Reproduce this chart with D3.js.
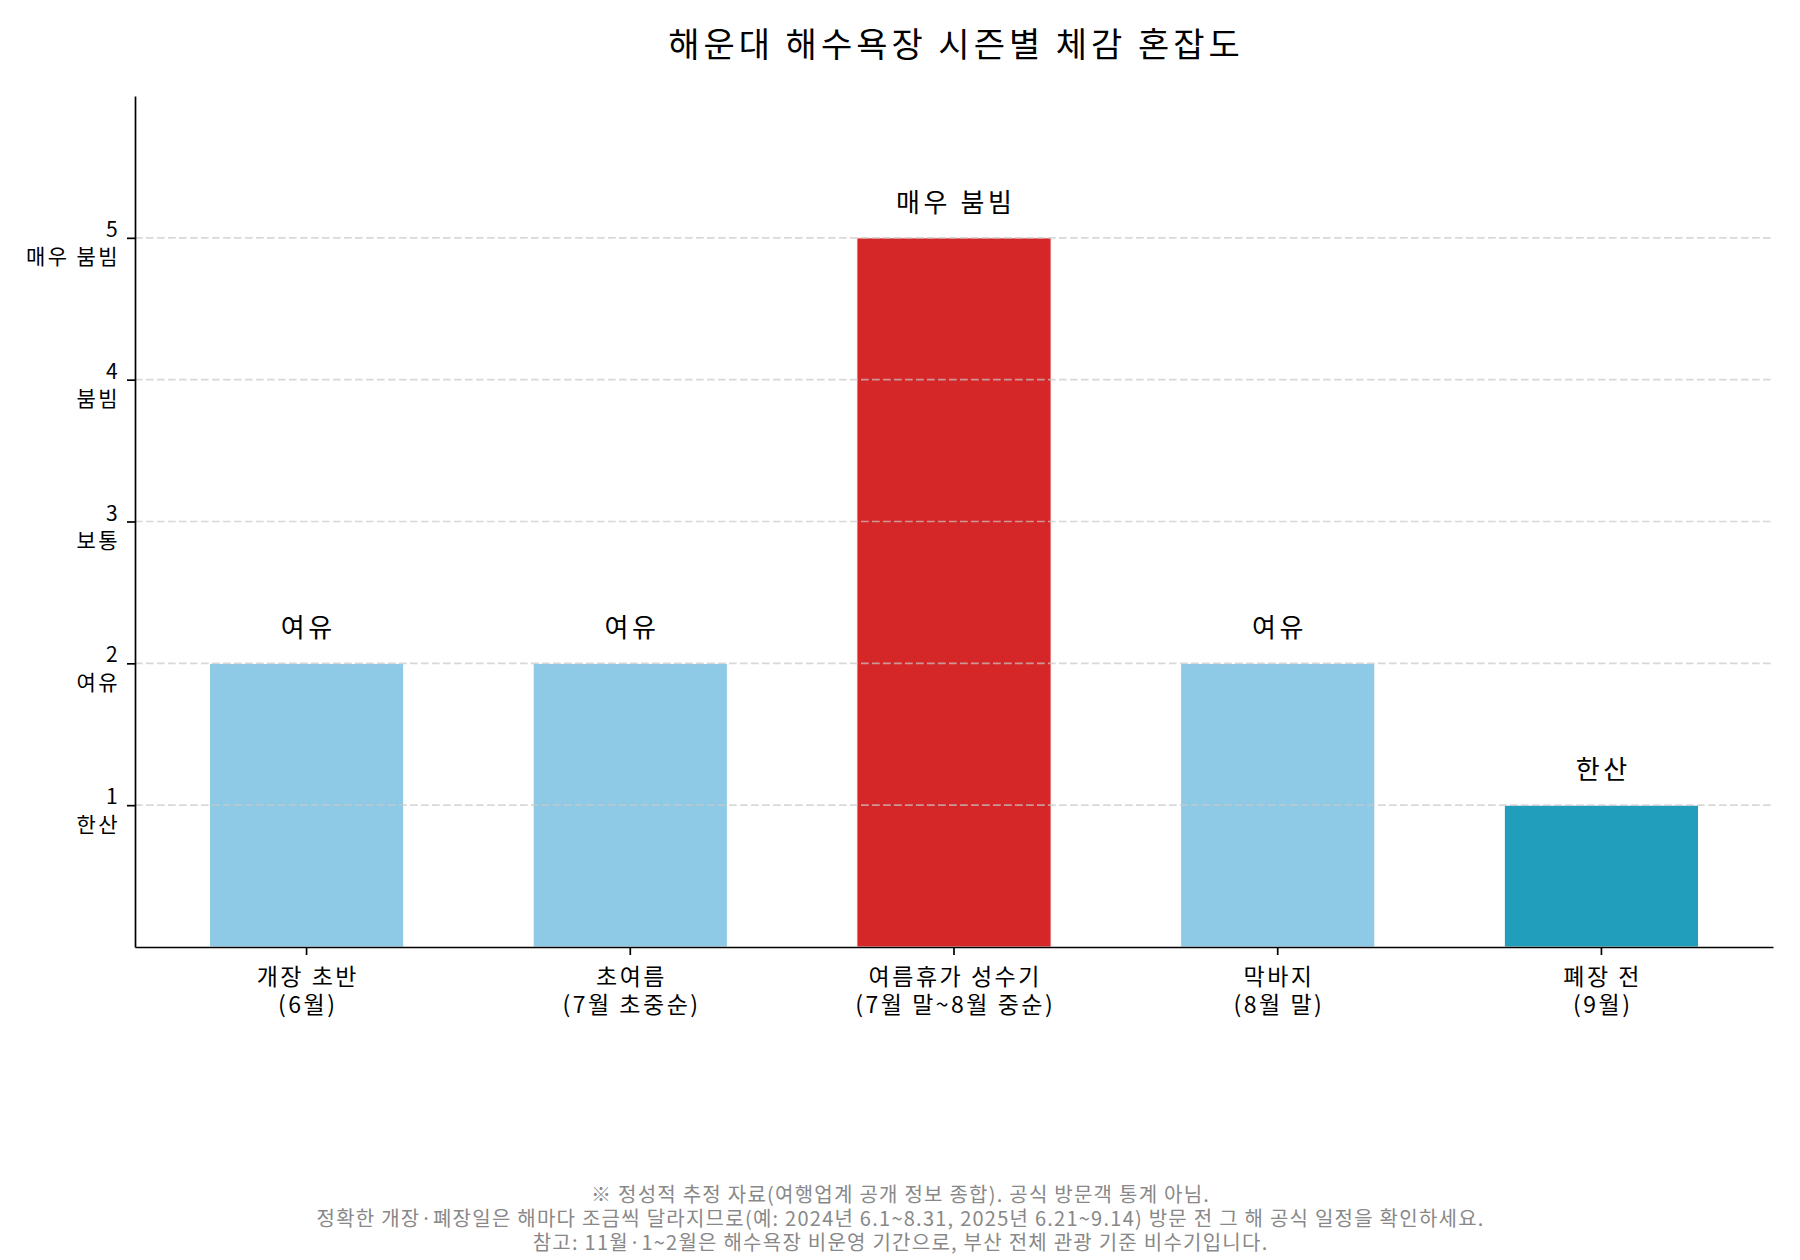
<!DOCTYPE html>
<html>
<head>
<meta charset="utf-8">
<script src="https://cdn.jsdelivr.net/npm/d3@7"></script>
<style>
  body { margin: 0; background: #fff; }
  text { font-family: "Noto Sans CJK KR", "Noto Sans", sans-serif; }
</style>
</head>
<body>
<div id="chart"></div>
<script>
// Data
const seasons = [
  ["개장 초반", "(6월)"],
  ["초여름", "(7월 초중순)"],
  ["여름휴가 성수기", "(7월 말~8월 중순)"],
  ["막바지", "(8월 말)"],
  ["폐장 전", "(9월)"]
];
const levels = [2, 2, 5, 2, 1];
const barColors = ["#8ecae6", "#8ecae6", "#d62728", "#8ecae6", "#219ebc"];
const levelTicks = [1, 2, 3, 4, 5];
const levelNames = ["한산", "여유", "보통", "붐빔", "매우 붐빔"];
const title = "해운대 해수욕장 시즌별 체감 혼잡도";
const notes = [
  "※ 정성적 추정 자료(여행업계 공개 정보 종합). 공식 방문객 통계 아님.",
  "정확한 개장·폐장일은 해마다 조금씩 달라지므로(예: 2024년 6.1~8.31, 2025년 6.21~9.14) 방문 전 그 해 공식 일정을 확인하세요.",
  "참고: 11월·1~2월은 해수욕장 비운영 기간으로, 부산 전체 관광 기준 비수기입니다."
];

const W = 1800, H = 1260;
const margin = {top: 96, right: 27, bottom: 313, left: 135};
const width = W - margin.left - margin.right,
      height = H - margin.top - margin.bottom;

const svg = d3.select("#chart")
  .append("svg")
    .attr("width", W)
    .attr("height", H);

const g = svg.append("g")
    .attr("transform", `translate(${margin.left},${margin.top})`);

const idx = d3.range(seasons.length);

// X scale: bars 0.6 wide, matplotlib-like margins
const x = d3.scaleBand()
  .domain(idx)
  .range([0, width])
  .paddingInner(0.4)
  .paddingOuter(0.23);

const y = d3.scaleLinear()
  .domain([0, 6])
  .range([height, 0]);

// Bars
g.selectAll(".bar")
  .data(idx)
  .join("rect")
    .attr("class", "bar")
    .attr("x", i => x(i))
    .attr("y", i => y(levels[i]))
    .attr("width", x.bandwidth())
    .attr("height", i => y(0) - y(levels[i]))
    .attr("fill", i => barColors[i])
    .attr("stroke", "#fff")
    .attr("stroke-width", 1);

// Grid lines (dashed, semi transparent, on top of bars)
g.append("g")
  .selectAll("line")
  .data(levelTicks)
  .join("line")
    .attr("x1", 0)
    .attr("x2", width)
    .attr("y1", d => y(d))
    .attr("y2", d => y(d))
    .attr("stroke", "#c8c8c8")
    .attr("stroke-opacity", 0.7)
    .attr("stroke-width", 1.6)
    .attr("stroke-dasharray", "7.7,3.3");

// Value labels above bars
g.selectAll(".val")
  .data(idx)
  .join("text")
    .attr("class", "val")
    .attr("x", i => x(i) + x.bandwidth() / 2 + 1.8)
    .attr("y", i => y(levels[i]) - 26)
    .attr("text-anchor", "middle")
    .attr("font-size", 26)
    .attr("letter-spacing", 3.6)
    .attr("fill", "#000")
    .text(i => levelNames[levels[i] - 1]);

// X axis
const xAxis = g.append("g")
  .attr("transform", `translate(0,${height})`)
  .call(d3.axisBottom(x).tickSize(8).tickSizeOuter(0).tickFormat(""));
xAxis.select(".domain").attr("stroke", "#000").attr("stroke-width", 1.7);
xAxis.selectAll(".tick line").attr("stroke", "#000").attr("stroke-width", 1.7);
xAxis.selectAll(".tick text").remove();
xAxis.selectAll(".tick").append("text")
    .attr("text-anchor", "middle")
    .attr("font-size", 23)
    .attr("letter-spacing", 2.5)
    .attr("fill", "#000")
  .selectAll("tspan")
  .data(i => seasons[i])
  .join("tspan")
    .attr("x", 1.25)
    .attr("y", (d, k) => 38 + k * 28)
    .text(d => d);

// Y axis
const yAxis = g.append("g")
  .call(d3.axisLeft(y).tickValues(levelTicks).tickSize(8).tickSizeOuter(0).tickFormat(""));
yAxis.select(".domain").attr("stroke", "#000").attr("stroke-width", 1.7);
yAxis.selectAll(".tick line").attr("stroke", "#000").attr("stroke-width", 1.7);
yAxis.selectAll(".tick text").remove();
yAxis.selectAll(".tick").append("text")
    .attr("text-anchor", "end")
    .attr("font-size", 21)
    .attr("letter-spacing", 2.4)
    .attr("fill", "#000")
  .selectAll("tspan")
  .data(d => [String(d), levelNames[d - 1]])
  .join("tspan")
    .attr("x", -15)
    .attr("y", (d, k) => -1.5 + k * 27.5)
    .text(d => d);

// Title
svg.append("text")
  .attr("x", margin.left + width / 2 + 2)
  .attr("y", 57)
  .attr("text-anchor", "middle")
  .attr("font-size", 34)
  .attr("letter-spacing", 4)
  .attr("fill", "#000")
  .text(title);

// Footnotes
svg.append("g")
  .selectAll("text")
  .data(notes)
  .join("text")
    .attr("x", W / 2 + 0.6)
    .attr("y", (d, k) => 1202 + k * 24)
    .attr("text-anchor", "middle")
    .attr("font-size", 20)
    .attr("letter-spacing", 1.25)
    .attr("fill", "#888")
    .text(d => d);
</script>
</body>
</html>
